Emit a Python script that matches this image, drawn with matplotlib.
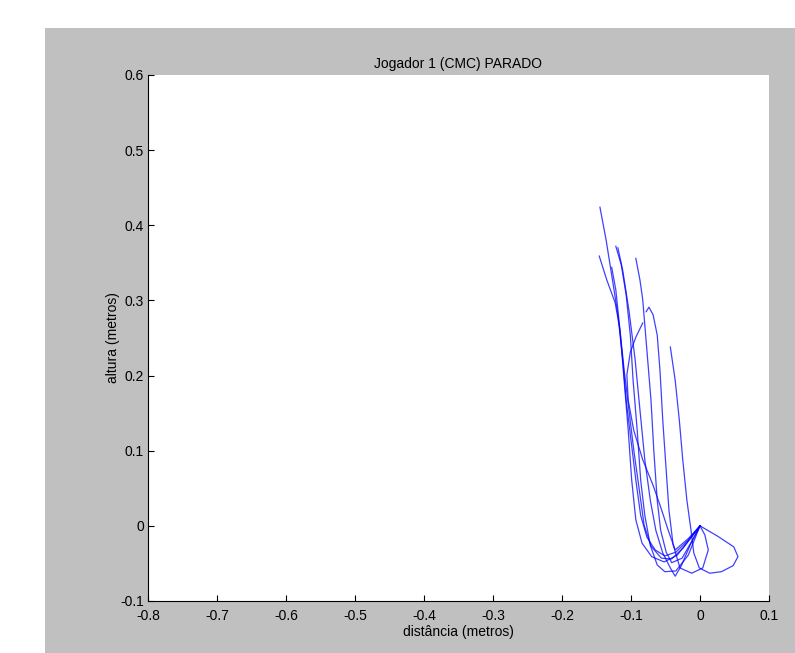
import matplotlib
matplotlib.use("Agg")
import matplotlib.pyplot as plt
from matplotlib.patches import Rectangle

# trajectories (distancia, altura in metros)
x1 = [-0.145, -0.136, -0.128, -0.119, -0.112, -0.107, -0.100, -0.093, -0.086, -0.077, -0.065, -0.051, -0.035, -0.017, 0.0]
y1 = [0.424, 0.380, 0.334, 0.281, 0.221, 0.167, 0.114, 0.061, 0.014, -0.015, -0.032, -0.040, -0.035, -0.019, 0.0]

x2 = [-0.146, -0.135, -0.123, -0.116, -0.110, -0.103, -0.096, -0.088, -0.081, -0.071, -0.056, -0.041, -0.024, 0.0]
y2 = [0.359, 0.327, 0.297, 0.261, 0.208, 0.154, 0.101, 0.048, 0.001, -0.027, -0.043, -0.044, -0.029, 0.0]

x3 = [-0.122, -0.114, -0.107, -0.101, -0.097, -0.091, -0.086, -0.080, -0.072, -0.062, -0.051, -0.035, -0.017, 0.0]
y3 = [0.372, 0.347, 0.307, 0.254, 0.194, 0.127, 0.061, 0.014, -0.026, -0.052, -0.061, -0.060, -0.039, 0.0]

x4 = [-0.119, -0.112, -0.103, -0.094, -0.087, -0.080, -0.072, -0.064, -0.054, -0.043, -0.036, -0.027, -0.014, 0.0]
y4 = [0.370, 0.340, 0.287, 0.221, 0.154, 0.088, 0.034, -0.006, -0.036, -0.056, -0.067, -0.053, -0.025, 0.0]

x5 = [-0.093, -0.087, -0.083, -0.077, -0.071, -0.067, -0.062, -0.057, -0.049, -0.041, -0.026, -0.011, 0.0]
y5 = [0.356, 0.327, 0.301, 0.234, 0.167, 0.101, 0.034, -0.006, -0.035, -0.049, -0.043, -0.019, 0.0]

x6 = [-0.078, -0.074, -0.068, -0.062, -0.058, -0.054, -0.049, -0.045, -0.039, -0.029, -0.012, 0.004, 0.012, 0.007, 0.0]
y6 = [0.285, 0.291, 0.281, 0.254, 0.207, 0.141, 0.074, 0.021, -0.025, -0.056, -0.063, -0.056, -0.032, -0.012, 0.0]

x7 = [-0.083, -0.093, -0.101, -0.106, -0.104, -0.096, -0.083, -0.068, -0.057, -0.046, -0.036, -0.017, 0.0]
y7 = [0.270, 0.251, 0.231, 0.201, 0.167, 0.127, 0.088, 0.054, 0.025, -0.006, -0.032, -0.017, 0.0]

x8 = [-0.043, -0.036, -0.030, -0.025, -0.019, -0.013, -0.009, -0.001, 0.014, 0.031, 0.048, 0.055, 0.049, 0.026, 0.0]
y8 = [0.238, 0.194, 0.141, 0.088, 0.034, -0.006, -0.036, -0.056, -0.063, -0.061, -0.053, -0.041, -0.028, -0.014, 0.0]

x9 = [-0.128, -0.122, -0.116, -0.110, -0.104, -0.099, -0.093, -0.084, -0.070, -0.052, -0.033, -0.017, 0.0]
y9 = [0.344, 0.314, 0.261, 0.194, 0.127, 0.061, 0.008, -0.023, -0.041, -0.048, -0.039, -0.020, 0.0]

xticks = [-0.8, -0.7, -0.6, -0.5, -0.4, -0.3, -0.2, -0.1, 0, 0.1]
yticks = [-0.1, 0, 0.1, 0.2, 0.3, 0.4, 0.5, 0.6]
xticklabels = ["-0.8", "-0.7", "-0.6", "-0.5", "-0.4", "-0.3", "-0.2", "-0.1", "0", "0.1"]
yticklabels = ["-0.1", "0", "0.1", "0.2", "0.3", "0.4", "0.5", "0.6"]

plt.rcParams["font.family"] = ["Liberation Sans", "DejaVu Sans"]
plt.rcParams["font.size"] = 10

fig = plt.figure(figsize=(7.95, 6.53), dpi=100, facecolor="white")
# grey figure area (MATLAB window), white strip left and top
fig.patches.append(Rectangle((45 / 795, 0), 1 - 45 / 795, 1 - 28 / 653,
                             transform=fig.transFigure, facecolor="#c0c0c0",
                             edgecolor="none", zorder=-1))

ax = fig.add_axes([148 / 795, 52 / 653, 621 / 795, 526 / 653])
ax.set_facecolor("white")

for xs, ys in [(x1, y1), (x2, y2), (x3, y3), (x4, y4), (x5, y5),
               (x6, y6), (x7, y7), (x8, y8), (x9, y9)]:
    ax.plot(xs, ys, color="#0000ff", lw=0.9, alpha=0.75)

ax.set_xlim(-0.8, 0.1)
ax.set_ylim(-0.1, 0.6)
ax.set_xticks(xticks)
ax.set_yticks(yticks)
ax.set_xticklabels(xticklabels)
ax.set_yticklabels(yticklabels)
ax.tick_params(direction="in", length=4, width=0.8, colors="black", labelsize=10)
ax.tick_params(axis="x", pad=6)
ax.tick_params(axis="y", pad=3)

ax.spines["top"].set_visible(False)
ax.spines["right"].set_visible(False)
ax.spines["left"].set_linewidth(0.8)
ax.spines["bottom"].set_linewidth(0.8)

ax.set_title("Jogador 1 (CMC) PARADO", fontsize=10, pad=5)
ax.set_xlabel("distância (metros)", fontsize=10, labelpad=1)
ax.set_ylabel("altura (metros)", fontsize=10, labelpad=0)

fig.savefig("out.png", dpi=100, facecolor=fig.get_facecolor())
